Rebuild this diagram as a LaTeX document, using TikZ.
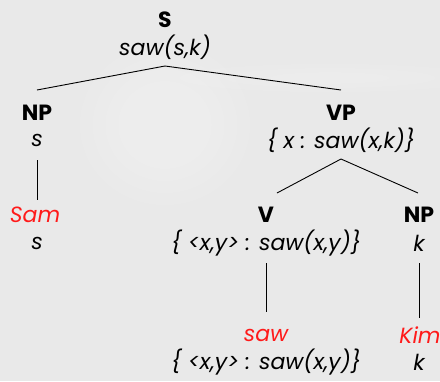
\documentclass[tikz,border=0pt]{standalone}
\usepackage{fontspec}
\setmainfont{Poppins}
\definecolor{bg}{HTML}{E9E9E9}
\definecolor{wordred}{HTML}{FF1A1A}
\begin{document}
\begin{tikzpicture}[x=1pt,y=-1pt,
  every node/.style={inner sep=0pt, font=\fontsize{22}{24}\selectfont},
  cat/.style={font=\fontsize{22}{24}\selectfont\bfseries},
  sem/.style={font=\fontsize{22}{24}\selectfont\itshape},
  word/.style={font=\fontsize{22}{24}\selectfont\itshape, text=wordred},
  edge/.style={draw=black, line width=0.9pt}]
\fill[bg] (0,0) rectangle (440,381);
\useasboundingbox (0,0) rectangle (440,381);
\begin{scope}
\clip (0,0) rectangle (440,381);
\foreach \r in {1.0,0.85,0.7,0.55}{
  \fill[white, opacity=0.08] (165,125) ellipse ({85*\r} and {80*\r});
}
\foreach \r in {1.0,0.7,0.4}{
  \fill[white, opacity=0.08] (330,78) ellipse ({150*\r} and {14*\r});
}
\end{scope}
% S
\node[cat] (S) at (165,20) {S};
\node[sem] (Ss) at (165,47) {saw(s,k)};
\coordinate (Sb) at (165,66);
% NP subject
\node[cat] (NP1) at (37,113) {NP};
\node[sem] (NP1s) at (37,140) {s};
\coordinate (NP1t) at (37,90);
\coordinate (NP1b) at (37,160);
\node[word] (Sam) at (35,215) {Sam};
\node[sem] (Sams) at (37,243) {s};
\coordinate (Samt) at (37,200);
% VP
\node[cat] (VP) at (341,113) {VP};
\node[sem] (VPs) at (341,140) {\{ x : saw(x,k)\}};
\coordinate (VPt) at (341,90);
\coordinate (VPb) at (341,159);
% V
\node[cat] (V) at (266,215) {V};
\node[sem] (Vs) at (266,243) {\{ <x,y> : saw(x,y)\}};
\coordinate (Vt) at (277,193);
\coordinate (Vb) at (266,263);
\node[word] (saw) at (266,335) {saw};
\node[sem] (saws) at (266,362) {\{ <x,y> : saw(x,y)\}};
\coordinate (sawt) at (266,312);
% NP object
\node[cat] (NP2) at (419,215) {NP};
\node[sem] (NP2s) at (419,243) {k};
\coordinate (NP2t) at (418,193);
\coordinate (NP2b) at (419,263);
\node[word] (Kim) at (420,335) {Kim};
\node[sem] (Kims) at (419,362) {k};
\coordinate (Kimt) at (419,318);
% edges
\draw[edge] (Sb) -- (NP1t);
\draw[edge] (Sb) -- (VPt);
\draw[edge] (NP1b) -- (Samt);
\draw[edge] (VPb) -- (Vt);
\draw[edge] (VPb) -- (NP2t);
\draw[edge] (Vb) -- (sawt);
\draw[edge] (NP2b) -- (Kimt);
\end{tikzpicture}
\end{document}
